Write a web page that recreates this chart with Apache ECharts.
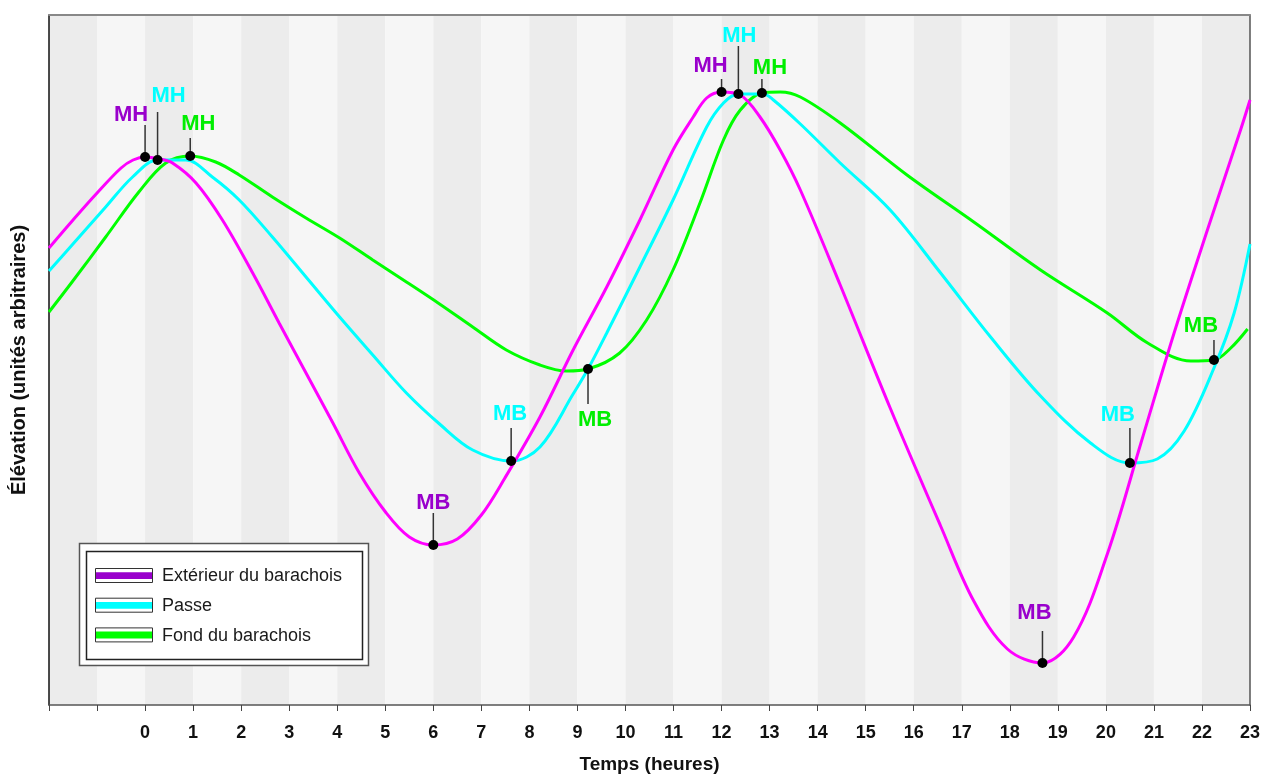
<!DOCTYPE html>
<html><head><meta charset="utf-8">
<script src="https://cdn.jsdelivr.net/npm/echarts@6/dist/echarts.min.js"></script>
<style>html,body{margin:0;padding:0;background:#fff}#c{width:1264px;height:777px}</style>
</head><body><div id="c"></div>
<script>
// ---- data ----
const seriesNames = ['Extérieur du barachois', 'Passe', 'Fond du barachois'];

const extTimes = [-2, -1.5, -1.0, -0.5, -0.25, 0, 0.3, 0.57, 1.06, 1.61, 2.24, 2.79, 3.35, 3.91, 4.46, 5.02, 5.5, 6.0, 6.5, 7.0, 7.49, 8.22, 8.91, 9.61, 10.3, 10.99, 11.41, 11.69, 12.0, 12.39, 12.8, 13.22, 13.64, 14.47, 15.51, 16.56, 17.25, 17.95, 18.68, 19.33, 20.03, 20.73, 21.42, 22.12, 22.81, 23.0];
const extElev  = [457, 485, 512, 537, 545, 548, 546, 542, 522, 485, 432, 382, 332, 282, 232, 192, 168, 160, 166, 190, 227, 288, 355, 418, 485, 555, 588, 607, 613, 610, 588, 555, 515, 420, 297, 179, 104, 56, 42, 68, 151, 262, 372, 476, 576, 605];

const passeTimes = [-2, -1.52, -0.82, -0.26, 0.26, 0.85, 1.4, 1.96, 2.65, 3.35, 4.05, 4.74, 5.44, 6.13, 6.82, 7.62, 8.22, 8.91, 9.22, 9.61, 10.3, 10.99, 11.69, 12.04, 12.35, 12.87, 13.08, 13.64, 14.47, 15.51, 16.56, 17.6, 18.64, 19.68, 20.5, 21.07, 21.63, 22.25, 22.67, 23.0];
const passeElev  = [434, 460, 498, 528, 545, 545, 528, 505, 468, 428, 388, 350, 312, 281, 255, 244, 258, 311, 336, 372, 438, 505, 578, 602, 611, 611, 605, 581, 542, 495, 432, 368, 309, 262, 242, 246, 274, 337, 392, 461];

const fondTimes = [-2, -1.52, -0.82, -0.13, 0.43, 0.94, 1.47, 1.96, 2.65, 3.35, 4.05, 4.74, 5.44, 6.13, 6.82, 7.52, 8.22, 8.77, 9.22, 9.88, 10.44, 10.99, 11.55, 12.04, 12.39, 12.84, 13.22, 13.64, 14.47, 15.86, 17.25, 18.64, 20.03, 20.87, 21.77, 22.25, 22.6, 22.95];
const fondElev  = [393, 423, 468, 513, 542, 549, 543, 530, 508, 487, 467, 445, 423, 401, 378, 355, 340, 334, 336, 352, 385, 435, 502, 565, 595, 612, 613, 608, 582, 530, 483, 435, 392, 362, 344, 345, 357, 376];

// extremes (MH = marée haute, MB = marée basse)
const extremeLabels = ['MH', 'MB', 'MH', 'MB'];
const extExtTimes = [0, 6.0, 12.0, 18.68];
const extExtElev  = [548, 160, 613, 42];
const passeExtTimes = [0.26, 7.62, 12.35, 20.5];
const passeExtElev  = [545, 244, 611, 242];
const fondExtTimes = [0.94, 9.22, 12.84, 22.25];
const fondExtElev  = [549, 336, 612, 345];

const xMin = -2, xMax = 23;

// ---- styles / layout ----
const FONT = 'Liberation Sans, Arial, Helvetica, sans-serif';
const lineColors  = ['#ff00ff', '#00ffff', '#00ff00'];
const labelColors = ['#9900cc', '#00ffff', '#00ee00'];
const legendColors = ['#9900cc', '#00ffff', '#00ff00'];
// per annotation: label dx, label dy, leader length (px, negative = up)
const annotLayout = [
  [{dx:-14,dy:-42,len:-32},{dx:0,dy:-42,len:-32},{dx:-11,dy:-26,len:-13},{dx:-8,dy:-50,len:-32}],
  [{dx:11,dy:-64,len:-48},{dx:-1,dy:-47,len:-33},{dx:1,dy:-58,len:-48},{dx:-12,dy:-48,len:-35}],
  [{dx:8,dy:-32,len:-18},{dx:7,dy:51,len:35},{dx:8,dy:-25,len:-14},{dx:-13,dy:-34,len:-20}]
];

const allTimes = [extTimes, passeTimes, fondTimes];
const allElev = [extElev, passeElev, fondElev];
const allExtT = [extExtTimes, passeExtTimes, fondExtTimes];
const allExtE = [extExtElev, passeExtElev, fondExtElev];

const stripeData = [];
for (let h = xMin; h < xMax; h++) stripeData.push([h]);

const annotData = [];
for (let s = 0; s < 3; s++) for (let k = 0; k < 4; k++) annotData.push([allExtT[s][k], allExtE[s][k], s, k]);

const chart = echarts.init(document.getElementById('c'), null, {renderer: 'canvas'});

const lineSeries = [0, 1, 2].map(s => ({
  type: 'line', name: seriesNames[s],
  data: allTimes[s].map((t, i) => [t, allElev[s][i]]),
  smooth: 0.35, showSymbol: false, symbol: 'none',
  lineStyle: {color: lineColors[s], width: 3},
  z: 4 - s, silent: true, clip: false
}));

const legendGraphics = [
  {type: 'rect', shape: {x: 79.5, y: 543.5, width: 289, height: 122}, style: {fill: '#fff', stroke: '#555', lineWidth: 1.5}, z: 100},
  {type: 'rect', shape: {x: 86.5, y: 551.5, width: 276, height: 108}, style: {fill: '#fff', stroke: '#222', lineWidth: 1.5}, z: 101}
];
seriesNames.forEach((n, i) => {
  const cy = 575.5 + i * 29.7;
  legendGraphics.push({type: 'rect', shape: {x: 95.5, y: cy - 7, width: 57, height: 14}, style: {fill: '#fff', stroke: '#333', lineWidth: 1}, z: 102});
  legendGraphics.push({type: 'rect', shape: {x: 96, y: cy - 3.3, width: 56, height: 6.8}, style: {fill: legendColors[i]}, z: 103});
  legendGraphics.push({type: 'text', x: 162, y: cy + 1, style: {text: n, font: '18px ' + FONT, fill: '#1a1a1a', verticalAlign: 'middle'}, z: 103});
});

chart.setOption({
  animation: false,
  backgroundColor: '#fff',
  grid: {left: 49, right: 14, top: 15, bottom: 72, containLabel: false, outerBoundsMode: 'none'},
  xAxis: [{
    type: 'value', min: xMin, max: xMax, interval: 1,
    name: 'Temps (heures)', nameLocation: 'middle', nameGap: 50,
    nameTextStyle: {fontFamily: FONT, fontWeight: 'bold', fontSize: 19, color: '#111'},
    axisLine: {show: true, onZero: false, lineStyle: {color: '#555', width: 1.5}},
    axisTick: {show: true, length: 6, lineStyle: {color: '#444', width: 1}},
    axisLabel: {show: true, margin: 19, fontFamily: FONT, fontWeight: 'bold', fontSize: 18, color: '#111',
      formatter: v => (v < 0 ? '' : String(v))},
    splitLine: {show: false}
  }, {
    type: 'value', min: xMin, max: xMax, position: 'top',
    axisLine: {show: true, onZero: false, lineStyle: {color: '#888', width: 2}},
    axisTick: {show: false}, axisLabel: {show: false}, splitLine: {show: false}
  }],
  yAxis: [{
    type: 'value', min: 0, max: 690,
    name: 'Élévation (unités arbitraires)', nameLocation: 'middle', nameGap: 20, nameRotate: 90,
    nameTextStyle: {fontFamily: FONT, fontWeight: 'bold', fontSize: 20, color: '#111'},
    axisLine: {show: true, onZero: false, lineStyle: {color: '#111', width: 1.5}},
    axisTick: {show: false}, axisLabel: {show: false}, splitLine: {show: false}
  }, {
    type: 'value', min: 0, max: 690, position: 'right',
    axisLine: {show: true, onZero: false, lineStyle: {color: '#555', width: 1.5}},
    axisTick: {show: false}, axisLabel: {show: false}, splitLine: {show: false}
  }],
  series: [{
    type: 'custom', data: stripeData, silent: true, z: 0,
    renderItem: (params, api) => {
      const h = api.value(0);
      const p0 = api.coord([h, 690]);
      const p1 = api.coord([h + 1, 0]);
      return {type: 'rect', shape: {x: p0[0], y: p0[1], width: p1[0] - p0[0], height: p1[1] - p0[1]},
        style: {fill: (((h % 2) + 2) % 2 === 0) ? '#ececec' : '#f6f6f6'}};
    }
  }].concat(lineSeries).concat([{
    type: 'custom', data: annotData, silent: true, z: 10, clip: false,
    renderItem: (params, api) => {
      const t = api.value(0), e = api.value(1), s = api.value(2), k = api.value(3);
      const p = api.coord([t, e]);
      const L = annotLayout[s][k];
      return {type: 'group', children: [
        {type: 'line', shape: {x1: p[0], y1: p[1], x2: p[0], y2: p[1] + L.len}, style: {stroke: '#333', lineWidth: 1.5}},
        {type: 'circle', shape: {cx: p[0], cy: p[1], r: 5}, style: {fill: '#000'}},
        {type: 'text', x: p[0] + L.dx, y: p[1] + L.dy, style: {text: extremeLabels[k], font: 'bold 22px ' + FONT,
          fill: labelColors[s], align: 'center', verticalAlign: 'middle'}}
      ]};
    }
  }]),
  graphic: legendGraphics
});
</script>
</body></html>
